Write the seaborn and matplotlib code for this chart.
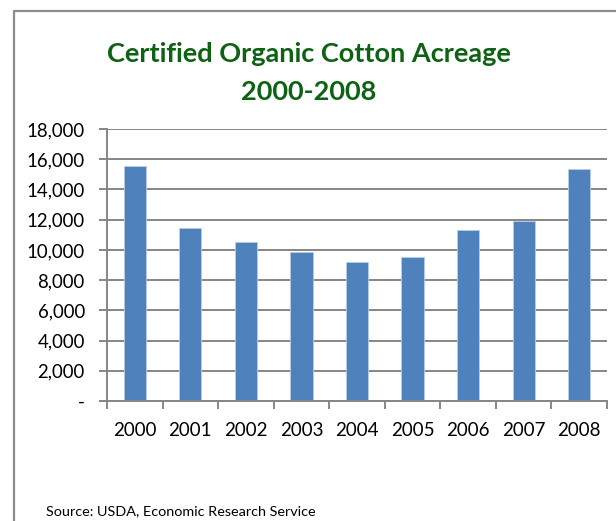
import matplotlib
matplotlib.use("Agg")
import matplotlib.pyplot as plt
from matplotlib.ticker import FuncFormatter, FixedLocator, MultipleLocator
from matplotlib.lines import Line2D
import seaborn as sns
import pandas as pd

years = ["2000", "2001", "2002", "2003", "2004", "2005", "2006", "2007", "2008"]
acreage = [15550, 11430, 10500, 9830, 9170, 9500, 11300, 11900, 15370]
title_lines = ["Certified Organic Cotton Acreage", "2000-2008"]
source_text = "Source: USDA, Economic Research Service"

sns.set_style("white")
plt.rcParams["font.family"] = ["Lato", "DejaVu Sans"]

W, H = 616, 521
fig = plt.figure(figsize=(W / 100, H / 100), dpi=100)

ax = fig.add_axes([107 / W, 1 - 401 / H, 500 / W, 272 / H])
df = pd.DataFrame({"year": years, "acreage": acreage})
sns.barplot(data=df, x="year", y="acreage", ax=ax, color="#4F81BD",
            saturation=1, width=0.4, edgecolor="#B9CDE5", linewidth=0.6)

grid_c = "#868686"
ax.set_ylim(0, 18000)
ax.set_xlim(-0.5, len(years) - 0.5)
ax.yaxis.set_major_locator(MultipleLocator(2000))
ax.yaxis.set_major_formatter(FuncFormatter(lambda v, p: "-" if v == 0 else f"{int(v):,}"))
ax.grid(axis="y", color=grid_c, linewidth=1.4)
ax.set_axisbelow(True)
for s in ["top", "right"]:
    ax.spines[s].set_visible(False)
for s in ["left", "bottom"]:
    ax.spines[s].set_color(grid_c)
    ax.spines[s].set_linewidth(1.4)

ax.xaxis.set_minor_locator(FixedLocator([i - 0.5 for i in range(len(years) + 1)]))
ax.tick_params(axis="x", which="minor", length=6, width=1.4, color=grid_c, direction="out", bottom=True)
ax.tick_params(axis="x", which="major", length=0, pad=15, labelsize=13.5, labelcolor="black")
ax.tick_params(axis="y", length=6, width=1.4, color=grid_c, direction="out", left=True,
               labelsize=13.4, labelcolor="black", pad=10)
ax.set_xlabel("")
ax.set_ylabel("")

fig.text(309 / W, 1 - 54 / H, title_lines[0], ha="center", va="center",
         fontsize=19.5, fontweight="bold", color="#0E6213")
fig.text(309 / W, 1 - 92 / H, title_lines[1], ha="center", va="center",
         fontsize=19.5, fontweight="bold", color="#0E6213")
fig.text(46 / W, 1 - 511 / H, source_text, ha="left", va="center", fontsize=10.4, color="black")

border = "#8C8C8C"
fig.add_artist(Line2D([14 / W, 14 / W], [0, 1 - 11 / H], transform=fig.transFigure, color=border, linewidth=1.6))
fig.add_artist(Line2D([14 / W, 1], [1 - 11 / H, 1 - 11 / H], transform=fig.transFigure, color=border, linewidth=1.6))

fig.savefig("out.png", dpi=100)
